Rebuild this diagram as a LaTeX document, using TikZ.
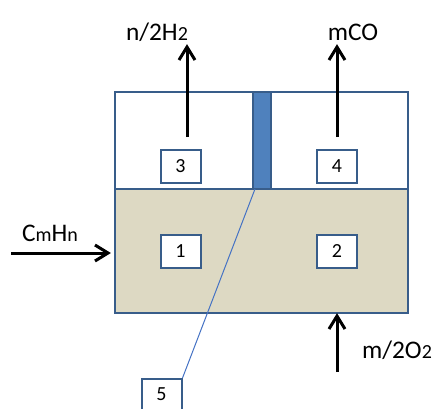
\documentclass[tikz,border=0pt]{standalone}
\usepackage{fontspec}
\setmainfont{Carlito}
\begin{document}
\begin{tikzpicture}[x=0.75pt,y=0.75pt,yscale=-1,xscale=1]
\tikzset{
  numbox/.style={draw={rgb, 255:red, 56; green, 93; blue, 138}, line width=1.5, fill=white, minimum width=30pt, minimum height=24.75pt, inner sep=0.75pt, font=\fontsize{15}{17}\selectfont},
  flowlbl/.style={inner sep=0.75pt, font=\fontsize{19}{22}\selectfont},
  flow/.style={line width=2.25, draw=black},
  tip/.style={line width=2.25, draw=black, miter limit=20}
}
\newcommand{\smsub}[1]{{\fontsize{15}{17}\selectfont #1}}
%set diagram size 438 x 408
\clip (0,0) rectangle (438,408);

%Shape: Rectangle [id:cell] 
\draw  [draw={rgb, 255:red, 56; green, 93; blue, 138 }  ,fill={rgb, 255:red, 221; green, 217; blue, 195 }  ,line width=1.2 ] (115,189) -- (408,189) -- (408,313) -- (115,313) -- cycle ;
%Shape: Rectangle [id:gasspace] 
\draw  [draw={rgb, 255:red, 56; green, 93; blue, 138 }  ,fill={rgb, 255:red, 255; green, 255; blue, 255 }  ,line width=1.2 ] (115,92) -- (408,92) -- (408,189) -- (115,189) -- cycle ;
%Shape: Rectangle [id:membrane] 
\draw  [draw={rgb, 255:red, 56; green, 93; blue, 138 }  ,fill={rgb, 255:red, 79; green, 129; blue, 189 }  ,line width=1.2 ] (253,92) -- (271,92) -- (271,189) -- (253,189) -- cycle ;
\coordinate (barfoot) at (255,189);

% Number Boxes
\node [numbox] (n3) at (180.5,166.5) {3};
\node [numbox] (n4) at (337,166.5) {4};
\node [numbox] (n1) at (180.5,251.5) {1};
\node [numbox] (n2) at (337,251.5) {2};
\node [numbox] (n5) at (161.5,395.5) {};
\draw (161.5,394) node [inner sep=0.75pt, font=\fontsize{15}{17}\selectfont] (l5) {5};

%Straight Lines [id:pointer] 
\draw [color={rgb, 255:red, 68; green, 114; blue, 196 }  ,draw opacity=1 ][line width=0.75]    (n5.north east) -- (barfoot) ;

% Text Node
\draw (157,32) node [flowlbl] (h2) {n/2H\smsub{2}};
% Text Node
\draw (353,32) node [flowlbl] (co) {mCO};
% Text Node
\draw (50,233) node [flowlbl] (cmhn) {C\smsub{m}H\smsub{n}};
% Text Node
\draw (397,350) node [flowlbl] (o2) {m/2O\smsub{2}};

%Arrows
\coordinate (h2foot) at (187,137);
\coordinate (h2top) at (187,47);
\coordinate (cofoot) at (337,137);
\coordinate (cotop) at (337,47);
\coordinate (fuelin) at (11,253);
\coordinate (fuelend) at (108,253);
\coordinate (o2in) at (337,372);
\coordinate (o2end) at (337,316);
\draw [flow] (h2foot) -- (h2top) ;
\draw [tip, shift={(h2top)}] (-8,13) -- (0,0) -- (8,13) ;
\draw [flow] (cofoot) -- (cotop) ;
\draw [tip, shift={(cotop)}] (-8,13) -- (0,0) -- (8,13) ;
\draw [flow] (fuelin) -- (fuelend) ;
\draw [tip, shift={(fuelend)}] (-13,-8) -- (0,0) -- (-13,8) ;
\draw [flow] (o2in) -- (o2end) ;
\draw [tip, shift={(o2end)}] (-8,13) -- (0,0) -- (8,13) ;

\end{tikzpicture}
\end{document}
